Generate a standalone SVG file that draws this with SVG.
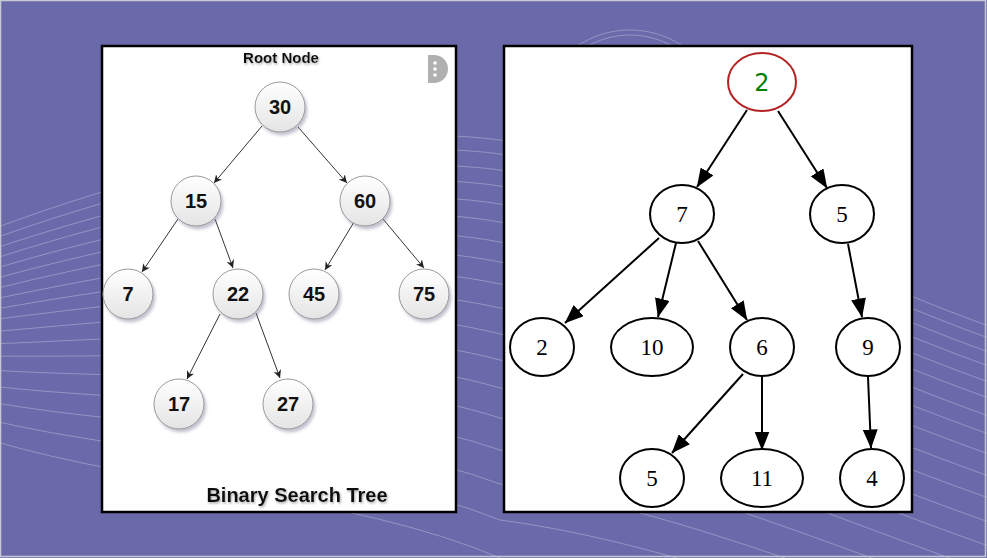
<svg xmlns="http://www.w3.org/2000/svg" width="987" height="558" viewBox="0 0 987 558">
<style>
.bg{fill:#6a6aab}
.wave{fill:none;stroke:#ffffff;stroke-width:1}
.panel{fill:#ffffff;stroke:#000000;stroke-width:2.5}
.bn{fill:url(#g);stroke:#9a9a9a;stroke-width:1;filter:url(#sh)}
.bt{font-family:"Liberation Sans",Arial,sans-serif;font-weight:bold;font-size:20px;fill:#111;text-anchor:middle}
.be{fill:none;stroke:#333;stroke-width:1;marker-end:url(#sa)}
.title{font-family:"Liberation Sans",Arial,sans-serif;font-weight:bold;fill:#111;text-anchor:middle;filter:url(#ts)}
.gn{fill:#ffffff;stroke:#000;stroke-width:2}
.gt{font-family:"Liberation Serif","Times New Roman",serif;font-size:23px;fill:#000;text-anchor:middle}
.ge{fill:none;stroke:#000;stroke-width:2;marker-end:url(#la)}
</style>
<defs>
<linearGradient id="g" x1="0" y1="0" x2="0" y2="1">
<stop offset="0" stop-color="#ffffff"/>
<stop offset="1" stop-color="#e4e4e4"/>
</linearGradient>
<filter id="sh" x="-30%" y="-30%" width="170%" height="170%">
<feDropShadow dx="2" dy="3" stdDeviation="1.5" flood-color="#7a7a9a" flood-opacity="0.45"/>
</filter>
<filter id="ts" x="-10%" y="-30%" width="120%" height="170%">
<feDropShadow dx="1" dy="1.5" stdDeviation="0.8" flood-color="#888" flood-opacity="0.7"/>
</filter>
<marker id="sa" viewBox="0 0 10 10" refX="10" refY="5" markerWidth="8" markerHeight="8" markerUnits="userSpaceOnUse" orient="auto">
<path d="M0,0 L10,5 L0,10 L3,5 z" fill="#222"/>
</marker>
<marker id="la" viewBox="0 0 19 15" refX="18.5" refY="7.5" markerWidth="19" markerHeight="15" markerUnits="userSpaceOnUse" orient="auto">
<path d="M0,0 L19,7.5 L0,15 z" fill="#000"/>
</marker>
</defs>

<rect class="bg" x="0" y="0" width="987" height="558"/>
<g id="waves" opacity="0.28">
<path class="wave" d="M-10,230 C150,170 350,120 500,140 C650,160 800,260 1000,330"/>
<path class="wave" d="M-10,240 C150,182 350,134 500,154 C650,174 800,272 1000,342"/>
<path class="wave" d="M-10,250 C150,196 350,150 500,170 C650,190 800,286 1000,356"/>
<path class="wave" d="M-10,260 C150,208 350,164 500,186 C650,206 800,300 1000,370"/>
<path class="wave" d="M-10,270 C150,222 350,180 500,204 C650,224 800,316 1000,386"/>
<path class="wave" d="M-10,280 C150,236 350,196 500,222 C650,242 800,332 1000,402"/>
<path class="wave" d="M-10,290 C150,250 350,214 500,242 C650,262 800,350 1000,420"/>
<path class="wave" d="M-10,300 C150,266 350,232 500,262 C650,282 800,368 1000,438"/>
<path class="wave" d="M-10,310 C150,282 350,252 500,284 C650,304 800,388 1000,458"/>
<path class="wave" d="M-10,320 C150,300 350,274 500,308 C650,328 800,410 1000,480"/>
<path class="wave" d="M-10,332 C150,318 350,296 500,334 C650,354 800,432 1000,502"/>
<path class="wave" d="M-10,344 C150,338 350,320 500,360 C650,380 800,456 1000,526"/>
<path class="wave" d="M-10,356 C150,358 350,344 500,388 C650,408 800,480 1000,550"/>
<path class="wave" d="M-10,370 C150,380 350,370 500,418 C650,438 800,506 1000,576"/>
<path class="wave" d="M-10,386 C150,404 350,398 500,450 C650,470 800,534 1000,604"/>
<path class="wave" d="M-10,402 C150,430 350,428 500,484 C650,504 800,564 1000,634"/>
<path class="wave" d="M-10,420 C150,458 350,460 500,520 C650,540 800,596 1000,666"/>
<path class="wave" d="M-10,440 C150,488 350,494 500,558"/>
<path class="wave" d="M560,60 C600,20 660,20 700,60"/>
<path class="wave" d="M566,62 C604,26 656,26 694,62"/>
</g>
<rect x="0.5" y="0.5" width="985" height="556" fill="none" stroke="#c9c9d6" stroke-width="1.5"/>

<!-- Left panel -->
<rect class="panel" x="102" y="46" width="354" height="466"/>
<text class="title" x="281" y="63" font-size="15">Root Node</text>
<text class="title" x="297" y="502" font-size="20">Binary Search Tree</text>
<g id="menu-icon">
<path d="M428,55 h6 a14,14 0 0 1 0,28 h-6 z" fill="#b0b0b0"/>
<circle cx="435" cy="63" r="1.8" fill="#fff"/>
<circle cx="435" cy="69" r="1.8" fill="#fff"/>
<circle cx="435" cy="75" r="1.8" fill="#fff"/>
</g>

<g id="bst-edges">
<line class="be" x1="262" y1="126" x2="214" y2="183"/>
<line class="be" x1="298" y1="127" x2="347" y2="183"/>
<line class="be" x1="178" y1="219" x2="142" y2="272"/>
<line class="be" x1="215" y1="219" x2="233" y2="268"/>
<line class="be" x1="354" y1="222" x2="325" y2="270"/>
<line class="be" x1="383" y1="219" x2="424" y2="268"/>
<line class="be" x1="220" y1="314" x2="187" y2="379"/>
<line class="be" x1="256" y1="313" x2="280" y2="378"/>
</g>

<g id="bst-30"><circle class="bn" cx="280" cy="107" r="25"/><text class="bt" x="280" y="114">30</text></g>
<g id="bst-15"><circle class="bn" cx="196" cy="201" r="25"/><text class="bt" x="196" y="208">15</text></g>
<g id="bst-60"><circle class="bn" cx="365" cy="201" r="25"/><text class="bt" x="365" y="208">60</text></g>
<g id="bst-7"><circle class="bn" cx="128" cy="294" r="25"/><text class="bt" x="128" y="301">7</text></g>
<g id="bst-22"><circle class="bn" cx="238" cy="294" r="25"/><text class="bt" x="238" y="301">22</text></g>
<g id="bst-45"><circle class="bn" cx="314" cy="294" r="25"/><text class="bt" x="314" y="301">45</text></g>
<g id="bst-75"><circle class="bn" cx="424" cy="294" r="25"/><text class="bt" x="424" y="301">75</text></g>
<g id="bst-17"><circle class="bn" cx="179" cy="404" r="25"/><text class="bt" x="179" y="411">17</text></g>
<g id="bst-27"><circle class="bn" cx="288" cy="404" r="25"/><text class="bt" x="288" y="411">27</text></g>

<!-- Right panel -->
<rect class="panel" x="504" y="46" width="408" height="466"/>

<g id="gv-edges">
<line class="ge" x1="747" y1="110" x2="697" y2="187"/>
<line class="ge" x1="778" y1="111" x2="827" y2="188"/>
<line class="ge" x1="659" y1="238" x2="565" y2="323"/>
<line class="ge" x1="676" y1="243" x2="658" y2="317"/>
<line class="ge" x1="698" y1="241" x2="747" y2="320"/>
<line class="ge" x1="848" y1="244" x2="862" y2="317"/>
<line class="ge" x1="743" y1="374" x2="672" y2="453"/>
<line class="ge" x1="762" y1="377" x2="762" y2="450"/>
<line class="ge" x1="868" y1="377" x2="871" y2="448"/>
</g>

<g id="gv-root2"><ellipse cx="762" cy="82" rx="34" ry="29" fill="#fff" stroke="#b22222" stroke-width="2"/><text x="762" y="91" font-family="'DejaVu Sans',Verdana,sans-serif" font-size="24" fill="#008000" text-anchor="middle">2</text></g>
<g id="gv-7"><ellipse class="gn" cx="682" cy="214" rx="32" ry="29"/><text class="gt" x="682" y="222">7</text></g>
<g id="gv-5a"><ellipse class="gn" cx="842" cy="214" rx="32" ry="29"/><text class="gt" x="842" y="222">5</text></g>
<g id="gv-2"><ellipse class="gn" cx="542" cy="347" rx="32" ry="29"/><text class="gt" x="542" y="355">2</text></g>
<g id="gv-10"><ellipse class="gn" cx="652" cy="347" rx="41" ry="29"/><text class="gt" x="652" y="355">10</text></g>
<g id="gv-6"><ellipse class="gn" cx="762" cy="347" rx="32" ry="29"/><text class="gt" x="762" y="355">6</text></g>
<g id="gv-9"><ellipse class="gn" cx="868" cy="347" rx="32" ry="29"/><text class="gt" x="868" y="355">9</text></g>
<g id="gv-5b"><ellipse class="gn" cx="652" cy="478" rx="32" ry="29"/><text class="gt" x="652" y="486">5</text></g>
<g id="gv-11"><ellipse class="gn" cx="762" cy="478" rx="41" ry="29"/><text class="gt" x="762" y="486">11</text></g>
<g id="gv-4"><ellipse class="gn" cx="872" cy="478" rx="32" ry="29"/><text class="gt" x="872" y="486">4</text></g>
</svg>
